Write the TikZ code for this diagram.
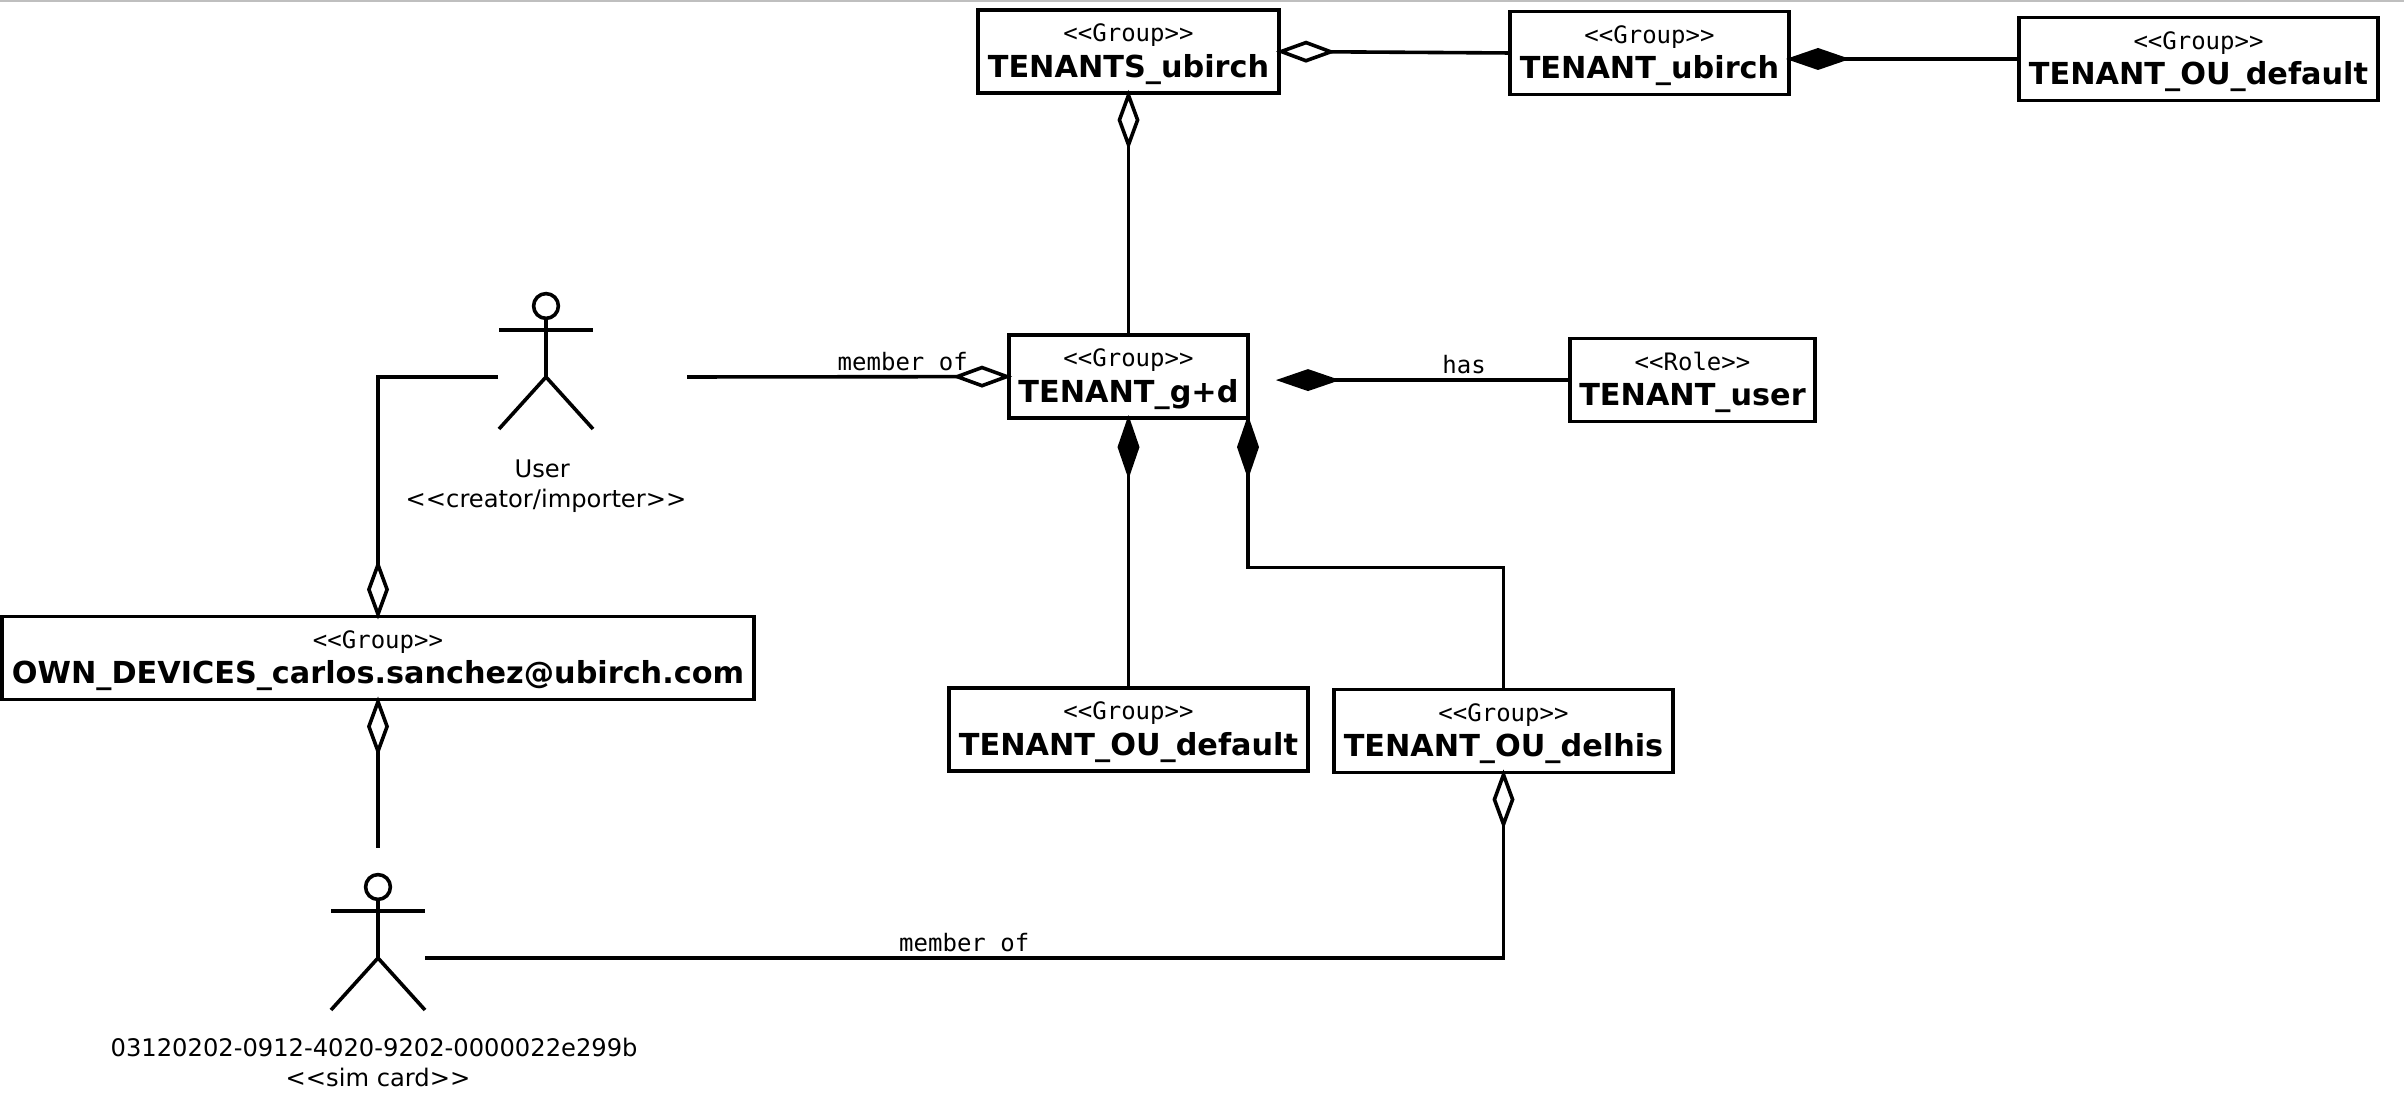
\documentclass[tikz,border=0pt]{standalone}
\usepackage{fontspec}
\setmainfont{DejaVu Sans}
\setmonofont{DejaVu Sans Mono}
\usetikzlibrary{arrows.meta,positioning}
\newcommand{\classlabel}[2]{{\ttfamily\fontsize{12}{14}\selectfont\rule[-3pt]{0pt}{14.6pt}#1}\\[2.25pt]{\bfseries\fontsize{15.15}{18}\selectfont #2}}
\tikzset{
  classbox/.style={draw,line width=1.8pt,minimum width=#1,minimum height=41.5pt,inner sep=0pt,outer sep=0pt,align=center},
  link/.style={line width=1.8pt,shorten >=-1.5pt},
  aggr/.style={link,-{Diamond[open,fill=white,length=30pt,width=11pt]}},
  comp/.style={link,-{Diamond[length=32pt,width=11pt]}},
  linklabel/.style={font=\ttfamily\fontsize{12}{14}\selectfont,above,inner sep=2pt},
  actorlabel/.style={font=\fontsize{12.1}{15}\selectfont,align=center},
  actor/.pic={
    \draw[line width=1.8pt] (0,35.5) circle (6.2);
    \draw[line width=1.8pt] (0,29.3) -- (0,0) (-23.5,23.5) -- (23.5,23.5);
    \draw[line width=1.8pt] (-23.5,-26) -- (0,0) -- (23.5,-26);
    \coordinate (-hip) at (0,0);
    \coordinate (-label) at (0,-52.25);
  }
}
\begin{document}
\begin{tikzpicture}[x=1pt,y=1pt,on grid]
   \useasboundingbox (0,0) rectangle (1202,559);
   \fill[black!25] (0,558) rectangle (1202,559);
   \node[classbox=119.5pt] (gd) at (564.25,370.7) {\classlabel{<<Group>>}{TENANT\_g+d}};
   \node[classbox=150.5pt] (tenants_ubirch) [above=162.55pt of gd] {\classlabel{<<Group>>}{TENANTS\_ubirch}};
   \node[classbox=139.5pt] (tenant_ubirch) [below right=0.75pt and 260.5pt of tenants_ubirch] {\classlabel{<<Group>>}{TENANT\_ubirch}};
   \node[classbox=179.5pt] (tenant_ou_top) [below right=3pt and 274.5pt of tenant_ubirch] {\classlabel{<<Group>>}{TENANT\_OU\_default}};
   \node[classbox=122.5pt] (tenant_user) [below right=1.75pt and 282pt of gd] {\classlabel{<<Role>>}{TENANT\_user}};
   \node[classbox=376pt] (own) [below left=140.7pt and 375.25pt of gd] {\classlabel{<<Group>>}{OWN\_DEVICES\_carlos.sanchez@ubirch.com}};
   \node[classbox=179.5pt] (ou_default) [below=176.45pt of gd] {\classlabel{<<Group>>}{TENANT\_OU\_default}};
   \node[classbox=169.5pt] (ou_delhis) [below right=0.75pt and 187.5pt of ou_default] {\classlabel{<<Group>>}{TENANT\_OU\_delhis}};
   % actors
   \pic (user) at (273,370.5) {actor};
   \pic (sim) at (189,80) {actor};
   \node[actorlabel] (user_label) [yshift=-2.25pt] at (user-label) {User\kern3.8pt\\<{}<creator/importer>{}>};
   \node[actorlabel] (sim_label) at (sim-label) {03120202-0912-4020-9202-0000022e299b\kern3.8pt\\<{}<sim card>{}>};
   \coordinate[left=24pt of user-hip] (user_in);
   \coordinate[right=70.5pt of user-hip] (user_out);
   \coordinate[above=55pt of sim-hip] (sim_top);
   \coordinate[right=23.5pt of sim-hip] (sim_out);
   \coordinate[left=145.5pt of tenant_user.west] (role_end);
   % connectors
   \path[aggr]
    (tenant_ubirch.west) edge (tenants_ubirch.east)
    (gd.north) edge (tenants_ubirch.south)
    (user_out) edge node [linklabel,pos=0.67] {member of} (gd.west)
    (sim_top) edge (own.south);
   \path[comp]
    (tenant_ou_top.west) edge (tenant_ubirch.east |- tenant_ou_top.west)
    (tenant_user.west) edge node [linklabel,pos=0.364] {has} (role_end)
    (ou_default.north) edge (gd.south);
   \draw[aggr] (user_in) -| (own.north);
   \draw[aggr] (sim_out) -| node [linklabel,pos=0.25] {member of} (ou_delhis.south);
   \draw[comp] (ou_delhis.north) -- ++(0,61) -| (gd.south east);
\end{tikzpicture}
\end{document}
